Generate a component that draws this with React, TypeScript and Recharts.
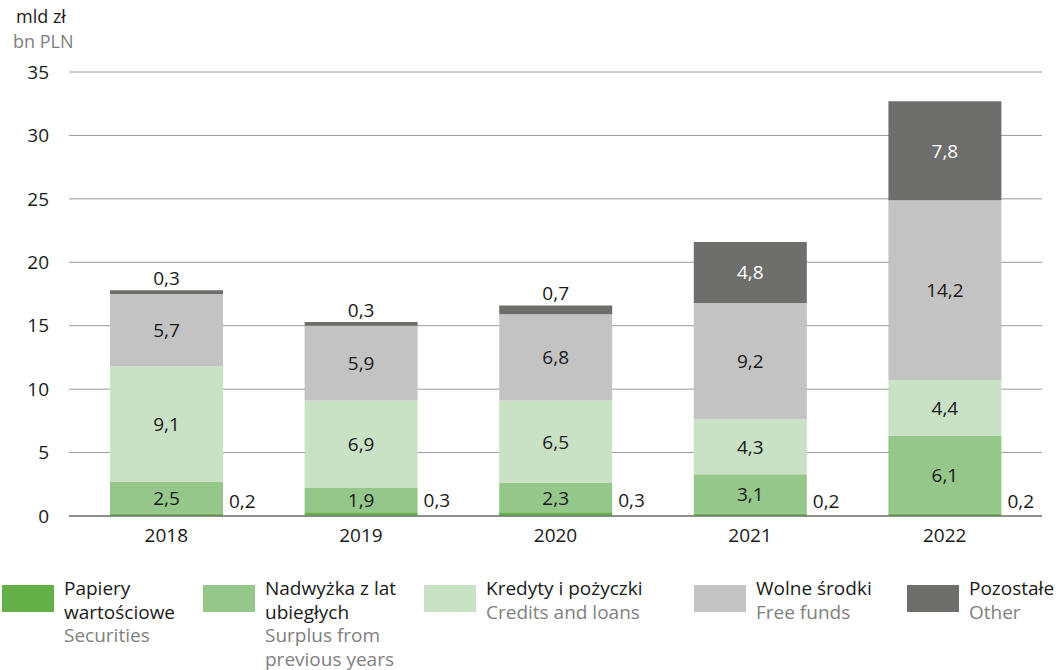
import React from 'react';
import { BarChart, Bar, XAxis, YAxis, CartesianGrid, LabelList } from 'recharts';

const years = ['2018', '2019', '2020', '2021', '2022'];
const securities = [0.2, 0.3, 0.3, 0.2, 0.2];
const surplus = [2.5, 1.9, 2.3, 3.1, 6.1];
const credits = [9.1, 6.9, 6.5, 4.3, 4.4];
const freeFunds = [5.7, 5.9, 6.8, 9.2, 14.2];
const other = [0.3, 0.3, 0.7, 4.8, 7.8];
const yTicks = [0, 5, 10, 15, 20, 25, 30, 35];

const legendItems = [
  { pl: ['Papiery', 'wartościowe'], en: ['Securities'], color: '#63b146', left: 2 },
  { pl: ['Nadwyżka z lat', 'ubiegłych'], en: ['Surplus from', 'previous years'], color: '#95c68a', left: 203 },
  { pl: ['Kredyty i pożyczki'], en: ['Credits and loans'], color: '#c9e1c5', left: 424 },
  { pl: ['Wolne środki'], en: ['Free funds'], color: '#c3c3c3', left: 694 },
  { pl: ['Pozostałe'], en: ['Other'], color: '#6e6e6c', left: 907 },
];

const data = years.map((year, i) => ({
  year,
  securities: securities[i],
  surplus: surplus[i],
  credits: credits[i],
  freeFunds: freeFunds[i],
  other: other[i],
}));

const FONT = '"Open Sans", sans-serif';
const FS = 19;
const fmt = (v: number) => String(v).replace('.', ',');

const CenterLabel = (props: any) => {
  const { x, y, width, height, value } = props;
  return (
    <text x={x + width / 2} y={y + height / 2} dy={7} textAnchor="middle" fill="#1a1a1a" fontSize={FS} fontFamily={FONT}>
      {fmt(value)}
    </text>
  );
};

const SideLabel = (props: any) => {
  const { x, y, width, value } = props;
  return (
    <text x={x + width + 6} y={y} dy={-5} textAnchor="start" fill="#1a1a1a" fontSize={FS} fontFamily={FONT}>
      {fmt(value)}
    </text>
  );
};

const OtherLabel = (props: any) => {
  const { x, y, width, height, value } = props;
  const inside = height > 30;
  return (
    <text
      x={x + width / 2}
      y={inside ? y + height / 2 : y - 12}
      dy={7}
      textAnchor="middle"
      fill={inside ? '#ffffff' : '#1a1a1a'}
      fontSize={FS}
      fontFamily={FONT}
    >
      {fmt(value)}
    </text>
  );
};

export default function App() {
  return (
    <div style={{ position: 'absolute', left: 0, top: 0, width: 1062, height: 670, background: '#fff', fontFamily: FONT, overflow: 'hidden' }}>
      <div style={{ position: 'absolute', left: 16, top: 4, fontSize: 18, lineHeight: '25px', color: '#1a1a1a' }}>mld zł</div>
      <div style={{ position: 'absolute', left: 13, top: 29, fontSize: 18, lineHeight: '25px', color: '#808080' }}>bn PLN</div>
      <BarChart width={1062} height={560} data={data} margin={{ top: 72, right: 20, bottom: 14, left: 0 }}>
        <CartesianGrid vertical={false} stroke="#9a9a9a" />
        <XAxis
          dataKey="year"
          axisLine={{ stroke: '#7a7a7a', strokeWidth: 1.5 }}
          tickLine={false}
          tickMargin={7}
          height={30}
          tick={{ fill: '#1a1a1a', fontSize: FS, fontFamily: FONT }}
        />
        <YAxis
          domain={[0, 35]}
          ticks={yTicks}
          width={69}
          axisLine={false}
          tickLine={false}
          tickSize={0}
          tickMargin={20}
          tick={{ fill: '#1a1a1a', fontSize: FS, fontFamily: FONT }}
        />
        <Bar dataKey="securities" stackId="a" fill="#63b146" barSize={113} isAnimationActive={false}>
          <LabelList dataKey="securities" content={SideLabel} />
        </Bar>
        <Bar dataKey="surplus" stackId="a" fill="#95c68a" barSize={113} isAnimationActive={false}>
          <LabelList dataKey="surplus" content={CenterLabel} />
        </Bar>
        <Bar dataKey="credits" stackId="a" fill="#c9e1c5" barSize={113} isAnimationActive={false}>
          <LabelList dataKey="credits" content={CenterLabel} />
        </Bar>
        <Bar dataKey="freeFunds" stackId="a" fill="#c3c3c3" barSize={113} isAnimationActive={false}>
          <LabelList dataKey="freeFunds" content={CenterLabel} />
        </Bar>
        <Bar dataKey="other" stackId="a" fill="#6e6e6c" barSize={113} isAnimationActive={false}>
          <LabelList dataKey="other" content={OtherLabel} />
        </Bar>
      </BarChart>
      {legendItems.map((item) => (
        <div key={item.pl[0]} style={{ position: 'absolute', left: item.left, top: 585 }}>
          <div style={{ position: 'absolute', left: 0, top: 0, width: 52, height: 27, background: item.color }} />
          <div style={{ position: 'absolute', left: 62, top: -8, fontSize: FS, lineHeight: '23.5px', whiteSpace: 'nowrap' }}>
            {item.pl.map((t) => (
              <div key={t} style={{ color: '#1a1a1a' }}>{t}</div>
            ))}
            {item.en.map((t) => (
              <div key={t} style={{ color: '#808080' }}>{t}</div>
            ))}
          </div>
        </div>
      ))}
    </div>
  );
}
